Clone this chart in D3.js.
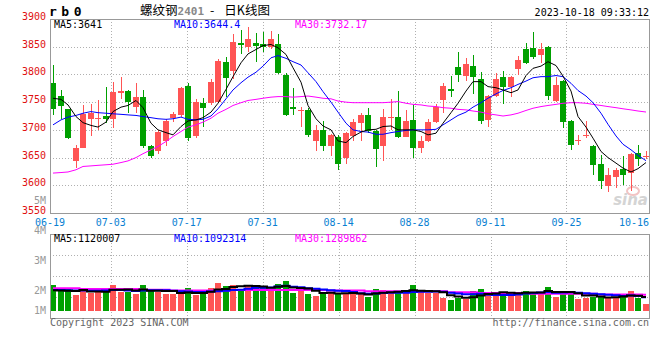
<!DOCTYPE html>
<html><head><meta charset="utf-8">
<script src="https://cdn.jsdelivr.net/npm/d3@7"></script>
<style>body{margin:0;background:#fff}svg{display:block}</style>
</head><body><svg id="c" width="660" height="360"></svg>
<script>
// ---- data ----
const openP  = [3784,3761,3737,3643,3667,3720,3721,3725,3719,3766,3771,3742,3760,3670,3661,3679,3721,3727,3780,3689,3749,3748,3751,3822,3807,3857,3850,3857,3855,3850,3855,3799,3742,3734,3736,3680,3700,3670,3687,3649,3689,3713,3727,3698,3670,3722,3723,3688,3718,3667,3680,3715,3753,3774,3813,3797,3815,3792,3718,3761,3795,3778,3809,3845,3847,3835,3849,3752,3788,3716,3681,3690,3671,3638,3599,3615,3629,3622,3659,3652];
const highP  = [3817,3772,3737,3673,3745,3747,3753,3777,3787,3795,3772,3784,3772,3672,3700,3720,3733,3778,3784,3755,3758,3792,3827,3832,3873,3880,3885,3874,3876,3878,3873,3803,3775,3741,3740,3709,3716,3693,3690,3697,3720,3730,3740,3700,3738,3756,3771,3736,3744,3689,3719,3747,3784,3797,3840,3829,3835,3804,3763,3803,3806,3798,3833,3856,3876,3856,3851,3795,3790,3718,3691,3716,3672,3655,3631,3632,3653,3659,3673,3661];
const lowP   = [3727,3719,3683,3632,3667,3689,3700,3712,3703,3755,3730,3730,3667,3649,3657,3671,3715,3724,3680,3686,3705,3745,3749,3760,3791,3836,3840,3822,3840,3845,3800,3725,3727,3706,3687,3662,3662,3652,3628,3638,3679,3679,3695,3633,3644,3700,3686,3687,3649,3659,3678,3713,3731,3759,3787,3789,3765,3711,3706,3759,3746,3760,3799,3818,3828,3820,3754,3751,3704,3664,3673,3685,3619,3594,3588,3596,3600,3590,3635,3647];
const closeP = [3737,3743,3686,3667,3728,3731,3722,3720,3769,3771,3751,3760,3670,3653,3697,3716,3728,3776,3686,3751,3739,3787,3825,3793,3858,3853,3864,3852,3850,3864,3802,3727,3737,3735,3691,3700,3670,3691,3638,3695,3715,3727,3698,3665,3723,3723,3688,3716,3667,3679,3715,3741,3780,3771,3799,3819,3796,3716,3761,3791,3778,3796,3826,3821,3831,3845,3761,3781,3715,3673,3682,3691,3637,3608,3619,3628,3619,3656,3647,3653];
const volume = [2060000,1720000,1720000,1270000,1590000,1400000,1720000,1670000,2060000,1530000,1530000,1350000,2060000,1590000,1530000,1350000,1350000,1330000,1800000,1270000,1400000,1800000,2250000,1980000,2060000,1720000,2060000,2060000,1800000,1590000,2140000,2380000,1450000,1590000,1350000,1210000,1530000,1530000,1330000,1400000,1330000,1330000,1130000,1750000,1670000,1530000,1530000,1400000,2060000,1530000,1400000,1400000,1060000,870000,1010000,950000,1590000,1750000,1400000,1270000,1400000,1400000,1530000,1590000,1450000,1400000,1930000,1130000,1590000,1450000,950000,1060000,1130000,1190000,1010000,1130000,1270000,1590000,1060000,560000];
const ma5  = [3757,3755,3745,3724,3713,3708,3705,3714,3733,3741,3744,3753,3740,3712,3700,3695,3691,3706,3716,3718,3722,3732,3748,3773,3796,3821,3837,3845,3852,3854,3848,3836,3812,3786,3744,3720,3707,3700,3680,3677,3688,3696,3700,3701,3706,3707,3700,3700,3700,3697,3691,3694,3712,3731,3748,3770,3787,3787,3778,3776,3772,3767,3772,3798,3811,3815,3823,3816,3797,3770,3724,3705,3685,3661,3650,3640,3631,3624,3630,3641];
const ma10 = [3709,3718,3723,3726,3730,3733,3731,3730,3729,3728,3727,3726,3724,3722,3720,3719,3720,3723,3719,3718,3719,3725,3738,3756,3772,3785,3795,3804,3815,3830,3834,3829,3823,3817,3803,3787,3769,3750,3732,3712,3700,3697,3696,3692,3692,3695,3697,3699,3700,3700,3700,3701,3709,3718,3726,3732,3741,3749,3757,3765,3771,3776,3782,3788,3794,3796,3796,3798,3796,3784,3771,3761,3749,3730,3710,3689,3674,3664,3654,3644.4];
const ma30 = [3622,3623,3624,3628,3634,3635,3636,3637,3638,3641,3644,3650,3657,3664,3670,3679,3688,3697,3705,3709,3714,3721,3730,3737,3744,3749,3753,3755,3757,3759,3760,3760,3759,3760,3761,3759,3757,3756,3752,3750,3749,3749,3749,3749,3749,3750,3751,3748,3746,3745,3743,3742,3740,3739,3737,3736,3734,3732,3729,3727,3725,3727,3730,3735,3739,3742,3744,3746,3748,3749,3749,3748,3746,3744,3742,3740,3738,3736,3734,3732.17];
const vma5  = [1650000,1620000,1600000,1580000,1670000,1540000,1540000,1530000,1690000,1680000,1700000,1630000,1710000,1610000,1610000,1580000,1580000,1430000,1470000,1420000,1430000,1520000,1700000,1740000,1900000,1960000,2010000,1980000,1940000,1850000,1930000,1990000,1870000,1830000,1780000,1600000,1430000,1440000,1390000,1400000,1420000,1380000,1300000,1390000,1440000,1480000,1520000,1580000,1640000,1610000,1580000,1560000,1490000,1250000,1150000,1060000,1100000,1230000,1340000,1390000,1480000,1440000,1400000,1440000,1470000,1470000,1580000,1500000,1500000,1500000,1410000,1240000,1240000,1160000,1070000,1100000,1150000,1240000,1210000,1120007];
const vma10 = [1660000,1660000,1650000,1630000,1620000,1600000,1600000,1620000,1660000,1675000,1620000,1585000,1620000,1650000,1645000,1640000,1605000,1570000,1540000,1515000,1505000,1550000,1565000,1605000,1660000,1695000,1765000,1840000,1840000,1875000,1945000,2000000,1925000,1885000,1815000,1765000,1710000,1655000,1610000,1590000,1510000,1405000,1370000,1390000,1420000,1450000,1450000,1440000,1515000,1525000,1530000,1540000,1535000,1445000,1380000,1320000,1330000,1360000,1295000,1270000,1270000,1270000,1315000,1390000,1430000,1475000,1510000,1450000,1470000,1485000,1440000,1410000,1370000,1330000,1285000,1255000,1195000,1240000,1185000,1092314];
const vma30 = [1800000,1800000,1800000,1800000,1740000,1740000,1740000,1740000,1740000,1740000,1740000,1740000,1680000,1680000,1680000,1680000,1620000,1620000,1620000,1620000,1620000,1620000,1620000,1620000,1660000,1660000,1660000,1660000,1660000,1660000,1660000,1660000,1660000,1660000,1660000,1660000,1660000,1620000,1620000,1620000,1620000,1620000,1560000,1560000,1560000,1560000,1560000,1560000,1560000,1560000,1560000,1560000,1560000,1490000,1490000,1490000,1490000,1420000,1420000,1420000,1420000,1420000,1420000,1420000,1360000,1360000,1360000,1360000,1360000,1360000,1360000,1360000,1360000,1300000,1300000,1300000,1300000,1300000,1300000,1289862];
const priceTicks = [3550,3600,3650,3700,3750,3800,3850,3900];
const volTickValues = [1000000,2000000,3000000,4000000,5000000];
const volTickLabels = ["1M","2M","3M","4M","5M"];
const dateTickIndex = [0,8,18,28,38,48,58,68,77];
const dateTickLabels = ["06-19","07-03","07-17","07-31","08-14","08-28","09-11","09-25","10-16"];
const legendMain = [["MA5:3641","#000"],["MA10:3644.4","#0000ff"],["MA30:3732.17","#ff00ff"]];
const legendVol  = [["MA5:1120007","#000"],["MA10:1092314","#0000ff"],["MA30:1289862","#ff00ff"]];

// ---- drawing ----
const svg = d3.select("#c");
const MONO = "'DejaVu Sans Mono', 'Liberation Mono', monospace";
const RED = "#ff5454", GREEN = "#00a000", GRID = "#b0b0b0", FRAME = "#999";
const L = 50, R = 649, T = 19, B = 213, VT = 234, VB = 318;
const n = closeP.length;

const xb = d3.scaleBand().domain(d3.range(n)).range([50, 650]).paddingInner(0.2).paddingOuter(0.1).align(0);
const xc = i => Math.round(xb(i)) + 3;
const xt = d3.scaleLinear().domain([0, n - 1]).range([50, 650]);
const y = d3.scaleLinear().domain([3550, 3900]).range([B, T]);
const yv = d3.scaleLinear().domain([0, 5000000]).range([311, 248]);
const yvLab = d3.scaleLinear().domain([4000000 / 3, 5000000]).range([312.7, 202.7]).clamp(true);

// grids
const g = svg.append("g");
priceTicks.filter(p => p > 3550 && p < 3900).forEach(p => {
  g.append("line").attr("x1", L).attr("x2", R).attr("y1", Math.round(y(p)) + 0.5).attr("y2", Math.round(y(p)) + 0.5)
    .attr("stroke", GRID).attr("stroke-dasharray", "1,2");
});
[1, 2, 3].forEach(k => {
  const yy = Math.round(VT + (VB - VT) * k / 4) + 0.5;
  g.append("line").attr("x1", L).attr("x2", R).attr("y1", yy).attr("y2", yy).attr("stroke", GRID).attr("stroke-dasharray", "1,2");
});
dateTickIndex.slice(1, -1).forEach(i => {
  const xx = Math.round(xt(i)) + 0.5;
  g.append("line").attr("x1", xx).attr("x2", xx).attr("y1", T).attr("y2", B).attr("stroke", GRID).attr("stroke-dasharray", "1,2");
  g.append("line").attr("x1", xx).attr("x2", xx).attr("y1", VT).attr("y2", 321).attr("stroke", GRID).attr("stroke-dasharray", "1,2");
});

// watermark
svg.append("ellipse").attr("cx", 633).attr("cy", 191).attr("rx", 6).attr("ry", 4).attr("fill", "none").attr("stroke", "#f2c4c4").attr("stroke-width", 2);
svg.append("text").attr("x", 648).attr("y", 205).attr("text-anchor", "end").attr("font-family", "'DejaVu Sans', sans-serif")
  .attr("font-size", 15).attr("font-weight", "bold").attr("font-style", "italic").attr("fill", "#d4d4d4").text("sina");

// candles
const cg = svg.append("g");
d3.range(n).forEach(i => {
  const up = closeP[i] >= openP[i];
  const col = up ? RED : GREEN;
  const bx = Math.round(xb(i));
  cg.append("rect").attr("x", bx + 3).attr("width", 1)
    .attr("y", Math.round(y(highP[i]))).attr("height", Math.max(1, Math.round(y(lowP[i])) - Math.round(y(highP[i]))))
    .attr("fill", col);
  const top = Math.round(y(Math.max(openP[i], closeP[i])));
  const bot = Math.round(y(Math.min(openP[i], closeP[i])));
  cg.append("rect").attr("x", bx).attr("width", Math.round(xb.bandwidth()))
    .attr("y", top).attr("height", Math.max(1, bot - top)).attr("fill", col);
});

// MA lines main
const line = d3.line().x((d, i) => xc(i)).y(d => y(d));
[[ma30, "#ff00ff"], [ma10, "#0000ff"], [ma5, "#000"]].forEach(([arr, c]) => {
  svg.append("path").attr("d", line(arr)).attr("fill", "none").attr("stroke", c).attr("stroke-width", 1);
});

// volume bars
d3.range(n).forEach(i => {
  const up = closeP[i] >= openP[i];
  const bx = Math.round(xb(i));
  const top = Math.round(yv(volume[i]));
  svg.append("rect").attr("x", bx).attr("width", Math.round(xb.bandwidth())).attr("y", top).attr("height", 311 - top)
    .attr("fill", up ? RED : GREEN);
});
const vline = d3.line().x((d, i) => xc(i)).y(d => yv(d)).curve(d3.curveStep);
[[vma30, "#ff00ff"], [vma10, "#0000ff"], [vma5, "#000"]].forEach(([arr, c]) => {
  svg.append("path").attr("d", vline(arr)).attr("fill", "none").attr("stroke", c).attr("stroke-width", 2);
});

// frames
svg.append("rect").attr("x", L + 0.5).attr("y", T + 0.5).attr("width", R - L).attr("height", B - T).attr("fill", "none").attr("stroke", FRAME).attr("stroke-width", 1);
svg.append("rect").attr("x", L + 0.5).attr("y", VT + 0.5).attr("width", R - L).attr("height", VB - VT).attr("fill", "none").attr("stroke", FRAME).attr("stroke-width", 1);

// axis labels
const txt = (x, yy, s, fill, anchor, size) => svg.append("text").attr("x", x).attr("y", yy).attr("text-anchor", anchor || "start")
  .attr("font-family", MONO).attr("font-size", size || 10).attr("fill", fill).text(s);
priceTicks.forEach(p => txt(46, Math.round(y(p)) + 0.5, String(p), "#e01010", "end"));
volTickValues.forEach((v, k) => txt(46, yvLab(v) + 1, volTickLabels[k], "#999", "end"));
dateTickIndex.forEach((i, k) => {
  const xx = Math.min(xt(i), 649 - 15);
  txt(xx, 225.5, dateTickLabels[k], "#0a7fd2", "middle");
});

// legends
const legX = [54, 174, 295];
legendMain.forEach(([s, c], k) => txt(legX[k], 28, s, c));
legendVol.forEach(([s, c], k) => txt(legX[k], 242, s, c));

// header
svg.append("text").attr("x", 49).attr("y", 16).attr("font-family", MONO).attr("font-size", 13).attr("font-weight", "bold")
  .attr("letter-spacing", 4.5).attr("fill", "#000").text("rb0");
const title = svg.append("text").attr("x", 140).attr("y", 15).attr("font-family", "'Noto Sans CJK SC', sans-serif").attr("font-size", 12.5).attr("fill", "#000");
title.append("tspan").text("螺纹钢");
title.append("tspan").attr("fill", "#888").attr("font-weight", "bold").attr("font-family", MONO).attr("font-size", 11).text("2401");
title.append("tspan").attr("dx", 6).text("-");
title.append("tspan").attr("dx", 10).text("日K线图");
txt(649, 16, "2023-10-18 09:33:12", "#000", "end");

// footer
txt(50, 326, "Copyright 2023 SINA.COM", "#666");
txt(649, 326, "http://finance.sina.com.cn", "#666", "end");
</script>
</body></html>
